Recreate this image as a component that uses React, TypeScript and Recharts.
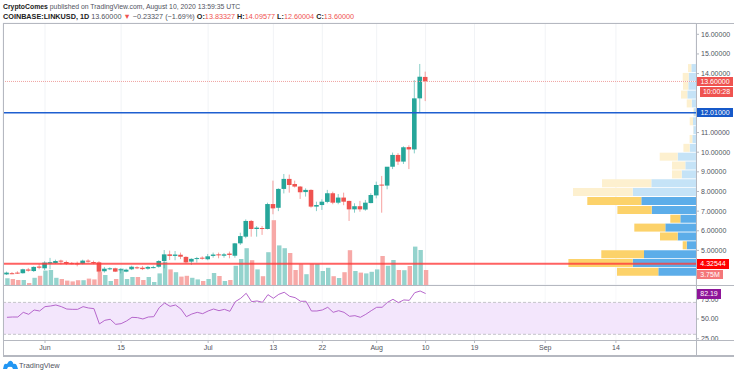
import {
  Bar,
  BarChart,
  CartesianGrid,
  Cell,
  ComposedChart,
  Line,
  ReferenceArea,
  ReferenceLine,
  XAxis,
  YAxis,
} from "recharts";

// days counted from Jun 1 2020
const firstDay = -7;
const opens = [
  3.78, 3.84, 3.87, 3.84, 4.03, 3.95, 4.18, 4.09, 4.33, 4.36, 4.48, 4.41, 4.35, 4.34, 4.33, 4.48, 4.41, 4.39, 3.94, 4.06,
  4.09, 4.0, 3.92, 4.04, 4.14, 4.12, 4.07, 4.12, 4.17, 4.46, 4.8, 4.72, 4.78, 4.67, 4.43, 4.56, 4.63, 4.55, 4.72, 4.8,
  4.73, 4.84, 4.73, 5.36, 5.7, 6.5, 6.09, 6.14, 6.09, 7.36, 7.17, 8.13, 8.64, 8.38, 8.25, 7.97, 8.08, 7.23, 7.31, 7.47,
  7.91, 7.43, 7.69, 7.52, 7.09, 7.25, 7.08, 7.41, 7.8, 8.35, 8.3, 9.26, 9.86, 9.52, 10.26, 10.14, 12.74, 13.83,
];
const closes = [
  3.87, 3.82, 3.85, 4.04, 3.97, 4.16, 4.12, 4.38, 4.4, 4.46, 4.43, 4.33, 4.33, 4.32, 4.48, 4.43, 4.38, 3.92, 4.07, 4.09,
  3.92, 4.04, 4.02, 4.17, 4.11, 4.05, 4.16, 4.15, 4.46, 4.8, 4.72, 4.79, 4.68, 4.39, 4.57, 4.61, 4.58, 4.7, 4.79, 4.75,
  4.8, 4.77, 5.36, 5.73, 6.5, 6.09, 6.16, 6.09, 7.36, 7.14, 8.13, 8.64, 8.33, 8.25, 7.96, 8.08, 7.23, 7.31, 7.48, 7.91,
  7.43, 7.69, 7.48, 7.09, 7.25, 7.09, 7.43, 7.82, 8.33, 8.3, 9.26, 9.86, 9.52, 10.25, 10.14, 12.74, 13.84, 13.6,
];
const highs = [
  3.92, 3.9, 3.94, 4.07, 4.11, 4.19, 4.31, 4.45, 4.62, 4.53, 4.53, 4.48, 4.41, 4.43, 4.53, 4.55, 4.48, 4.45, 4.16, 4.14,
  4.12, 4.09, 4.07, 4.22, 4.19, 4.21, 4.21, 4.22, 4.51, 5.02, 4.99, 4.97, 4.89, 4.7, 4.6, 4.67, 4.7, 4.82, 4.89, 4.89,
  4.87, 4.94, 5.38, 5.9, 6.58, 6.55, 6.24, 6.24, 7.43, 8.55, 8.16, 8.89, 8.86, 8.55, 8.28, 8.16, 8.11, 7.48, 7.6, 8.08,
  7.99, 7.87, 7.94, 7.53, 7.4, 7.52, 7.57, 7.91, 8.5, 8.79, 8.35, 9.98, 9.95, 10.3, 10.35, 13.67, 14.49, 14.1,
];
const lows = [
  3.75, 3.79, 3.8, 3.82, 3.92, 3.9, 4.04, 4.0, 4.04, 4.31, 4.28, 4.26, 4.29, 4.19, 4.29, 4.38, 4.3, 3.89, 3.87, 4.0, 3.9,
  3.83, 3.89, 4.0, 4.05, 4.0, 4.02, 4.09, 4.12, 4.09, 4.51, 4.5, 4.56, 4.34, 4.26, 4.38, 4.53, 4.5, 4.63, 4.6, 4.63, 4.6,
  4.63, 5.28, 5.62, 5.7, 5.7, 5.79, 6.07, 6.84, 7.0, 7.9, 7.94, 8.2, 7.62, 7.74, 7.18, 7.0, 7.06, 7.4, 7.35, 7.35, 7.3,
  6.5, 6.92, 6.97, 7.02, 7.4, 7.65, 6.92, 8.11, 9.14, 9.35, 9.4, 9.14, 9.94, 12.03, 12.6,
];
const volumes = [
  1.7, 1.5, 1.25, 1.25, 0.5, 1.8, 2.3, 3.6, 3.75, 1.8, 1.5, 1.1, 0.9, 1.2, 1.2, 1.6, 1.4, 3.3, 2.5, 1.0, 1.5, 4.1, 1.5,
  2.0, 2.0, 1.25, 2.0, 0.75, 2.9, 5.8, 3.9, 3.2, 2.1, 2.3, 1.8, 1.4, 1.0, 1.5, 3.0, 2.25, 1.0, 1.25, 4.8, 6.5, 9.2, 6.2,
  3.9, 2.2, 8.2, 16.2, 9.9, 9.2, 8.0, 3.75, 5.2, 2.7, 5.3, 5.25, 3.5, 4.3, 2.2, 1.75, 3.2, 8.7, 3.5, 3.1, 2.9, 3.3, 3.9,
  7.25, 4.8, 6.25, 3.75, 3.7, 4.75, 9.6, 8.75, 3.75,
];
const rsiValues = [
  52.1, 52.5, 52.5, 58.4, 55.9, 61.4, 60.1, 65.6, 66.4, 67.7, 65.6, 62.6, 62.2, 62.2, 65.6, 63.9, 63.1, 43.7, 48.3, 49.6,
  43.2, 44.1, 47.5, 52.1, 51.7, 50, 52.5, 52.9, 64.3, 70.2, 66, 67.7, 62.6, 52.9, 56.3, 58.4, 56.7, 60.1, 62.6, 60.5,
  62.2, 59.7, 71.9, 76.2, 82.5, 71.9, 72.8, 71.1, 80.8, 76.2, 81.2, 83.8, 78.7, 77, 72.4, 72.4, 60.1, 60.1, 61.4, 64.8,
  58.4, 60.5, 58.4, 53.4, 54.2, 52.1, 55.9, 60.5, 64.8, 64.8, 71.1, 74.9, 70.7, 74.1, 73.6, 83.3, 85.4, 82.19,
];

// volume profile rows, top to bottom
const profilePrices = [
  14.26, 13.81, 13.36, 12.91, 12.46, 12.01, 11.55, 11.1, 10.65, 10.2, 9.75, 9.3, 8.85, 8.4, 7.95, 7.5, 7.04, 6.59, 6.14,
  5.69, 5.24, 4.79, 4.34, 3.89,
];
const profileBuy = [
  4.7, 7.3, 7.7, 8.7, 4.3, 2, 3, 2.7, 3.7, 6.3, 18.3, 10.7, 14.3, 44.7, 63.3, 54.7, 44.3, 15.7, 30.7, 18.3, 9.3, 52, 63.3,
  37.7,
];
const profileSell = [
  3.3, 6, 5.3, 6.3, 5, 0.7, 3.3, 0.3, 2.7, 6.3, 18, 13.3, 9.7, 49.3, 59.7, 54, 34.3, 10, 31, 17.7, 4, 42.7, 64.3, 41.3,
];
const valueAreaTop = 7.7;

const gridTicks = [5, 6, 7, 8, 9, 10, 11, 12, 13, 14, 15, 16];
const priceTicks = [5, 6, 7, 8, 9, 10, 11, 14, 15, 16];
const rsiTicks = [25, 50, 75];
const dayTicks = [0, 14, 30, 42, 51, 61, 70, 79, 92, 105];
const dayTickLabels = ["Jun", "15", "Jul", "13", "22", "Aug", "10", "19", "Sep", "14"];

const lastPrice = 13.6;
const supportLevel = 4.32544;
const resistanceLevel = 12.01;
const rsiUpper = 71;
const rsiLower = 30.6;

const dayDomain = [-7.725, 119.73];
const priceDomain = [3.24, 16.575];
const volumeDomain = [0, 65.5];
const rsiDomain = [23.4, 93];

const UP = "#26a69a";
const DOWN = "#ef5350";
const FONT = "'Liberation Sans', Arial, sans-serif";
const AXIS_TEXT = { fontSize: 7, fontFamily: FONT, fill: "#50535e" };
const CHART_W = 736;
const PRICE_MARGIN = { top: 23, right: 0, bottom: 0, left: 3 };

const candleData = opens.map((open, i) => ({
  day: firstDay + i,
  open,
  close: closes[i],
  high: highs[i],
  low: lows[i],
  range: [lows[i], highs[i]],
  volume: volumes[i],
  rsi: rsiValues[i],
}));

const profileData = profilePrices.map((price, i) => ({
  price,
  buy: profileBuy[i],
  sell: profileSell[i],
}));

function Candle(props: any) {
  const { x, y, width, height, payload } = props;
  const { open, close, high, low } = payload;
  const unit = height / (high - low);
  const top = y + (high - Math.max(open, close)) * unit;
  const bodyH = Math.max(Math.abs(open - close) * unit, 1);
  const color = close >= open ? UP : DOWN;
  const mid = x + width / 2;
  return (
    <g>
      <line x1={mid} x2={mid} y1={y} y2={y + height} stroke={color} strokeOpacity={0.55} strokeWidth={1} />
      <rect x={x} y={top} width={width} height={bodyH} fill={color} />
    </g>
  );
}

function Box({ top, left, width, height, bg, children }: any) {
  return (
    <div
      style={{
        position: "absolute",
        top,
        left,
        width,
        height,
        lineHeight: `${height}px`,
        background: bg,
        color: "#fff",
        fontSize: 7,
        fontFamily: FONT,
        textAlign: "center",
      }}
    >
      {children}
    </div>
  );
}

function FrameLine({ top, left, width, height }: any) {
  return <div style={{ position: "absolute", top, left, width, height, background: "#b5b8c0" }} />;
}

const layer = { position: "absolute", left: 0, top: 0 } as const;

export default function App() {
  return (
    <div style={{ position: "fixed", left: 0, top: 0, width: 736, height: 376, background: "#fff", overflow: "hidden" }}>
      <div style={{ position: "absolute", left: 3, top: 2, fontSize: 6.85, lineHeight: "9px", fontFamily: FONT, color: "#50535e", whiteSpace: "nowrap" }}>
        <b style={{ color: "#222" }}>CryptoComes</b> published on TradingView.com, August 10, 2020 13:59:35 UTC
      </div>
      <div style={{ position: "absolute", left: 3, top: 11.5, fontSize: 7.25, lineHeight: "9px", fontFamily: FONT, color: "#50535e", whiteSpace: "nowrap" }}>
        <b style={{ color: "#222" }}>COINBASE:LINKUSD, 1D</b> 13.60000 <span style={{ color: DOWN }}>▼</span> −0.23327 (−1.69%){" "}
        <b style={{ color: "#222" }}>O:</b><span style={{ color: DOWN }}>13.83327</span>{" "}
        <b style={{ color: "#222" }}>H:</b><span style={{ color: DOWN }}>14.09577</span>{" "}
        <b style={{ color: "#222" }}>L:</b><span style={{ color: DOWN }}>12.60004</span>{" "}
        <b style={{ color: "#222" }}>C:</b><span style={{ color: DOWN }}>13.60000</span>
      </div>

      {/* volume + grid */}
      <div style={layer}>
        <ComposedChart width={CHART_W} height={285} data={candleData} margin={PRICE_MARGIN}>
          <CartesianGrid stroke="#f1f3f6" strokeWidth={1} />
          <XAxis dataKey="day" type="number" domain={dayDomain} ticks={dayTicks} allowDataOverflow hide />
          <YAxis orientation="right" width={40} domain={priceDomain} ticks={gridTicks} interval={0} allowDataOverflow tick={false} axisLine={false} tickLine={false} />
          <YAxis yAxisId="vol" hide domain={volumeDomain} allowDataOverflow />
          <Bar yAxisId="vol" dataKey="volume" barSize={4.4} isAnimationActive={false}>
            {candleData.map((d) => (
              <Cell key={d.day} fill={d.close >= d.open ? "#94d3cd" : "#f7a9a7"} />
            ))}
          </Bar>
        </ComposedChart>
      </div>

      {/* volume profile */}
      <div style={layer}>
        <BarChart width={CHART_W} height={285} data={profileData} layout="vertical" margin={{ top: 23, right: 40, bottom: 0, left: 3 }}>
          <XAxis type="number" reversed domain={[0, 693]} allowDataOverflow hide />
          <YAxis type="number" reversed dataKey="price" domain={priceDomain} allowDataOverflow hide />
          <Bar dataKey="buy" stackId="vp" barSize={8} isAnimationActive={false}>
            {profileData.map((d) => (
              <Cell key={d.price} fill={d.price < valueAreaTop ? "#5cade9" : "#c5e3f7"} />
            ))}
          </Bar>
          <Bar dataKey="sell" stackId="vp" barSize={8} isAnimationActive={false}>
            {profileData.map((d) => (
              <Cell key={d.price} fill={d.price < valueAreaTop ? "#fcd26a" : "#fdf0cf"} />
            ))}
          </Bar>
        </BarChart>
      </div>

      {/* candles + price axis */}
      <div style={layer}>
        <ComposedChart width={CHART_W} height={285} data={candleData} margin={PRICE_MARGIN}>
          <XAxis dataKey="day" type="number" domain={dayDomain} ticks={dayTicks} allowDataOverflow hide />
          <YAxis
            orientation="right"
            width={40}
            domain={priceDomain}
            ticks={priceTicks}
            allowDataOverflow
            interval={0}
            axisLine={false}
            tickSize={3}
            stroke="#b5b8c0"
            tick={AXIS_TEXT}
            tickFormatter={(v: number) => v.toFixed(5)}
          />
          <ReferenceLine y={lastPrice} stroke="#f0a3a1" strokeDasharray="1 1" strokeWidth={1} />
          <Bar dataKey="range" barSize={4.6} shape={<Candle />} isAnimationActive={false} />
          <ReferenceLine y={resistanceLevel} stroke="#1e5fd0" strokeWidth={1.6} />
          <ReferenceLine y={supportLevel} stroke="#ff3b3b" strokeOpacity={0.8} strokeWidth={2} />
        </ComposedChart>
      </div>

      {/* RSI */}
      <div style={{ position: "absolute", left: 0, top: 285 }}>
        <ComposedChart width={CHART_W} height={71} data={candleData} margin={{ top: 0, right: 0, bottom: 0, left: 3 }}>
          <ReferenceArea y1={rsiLower} y2={rsiUpper} fill="#f3e6fc" fillOpacity={1} stroke="none" />
          <CartesianGrid stroke="#f1f3f6" strokeOpacity={0.6} strokeWidth={1} horizontal={false} />
          <XAxis
            dataKey="day"
            type="number"
            height={16}
            domain={dayDomain}
            ticks={dayTicks}
            interval={0}
            allowDataOverflow
            axisLine={false}
            tickSize={3}
            stroke="#b5b8c0"
            tick={AXIS_TEXT}
            tickFormatter={(v: number) => dayTickLabels[dayTicks.indexOf(v)]}
          />
          <YAxis
            orientation="right"
            width={40}
            domain={rsiDomain}
            ticks={rsiTicks}
            interval={0}
            allowDataOverflow
            axisLine={false}
            tickSize={3}
            stroke="#b5b8c0"
            tick={AXIS_TEXT}
            tickFormatter={(v: number) => v.toFixed(2)}
          />
          <ReferenceLine y={rsiUpper} stroke="#c4c4ca" strokeDasharray="3 2" />
          <ReferenceLine y={rsiLower} stroke="#c4c4ca" strokeDasharray="3 2" />
          <Line dataKey="rsi" stroke="#b666cc" strokeWidth={1} dot={false} isAnimationActive={false} />
        </ComposedChart>
      </div>

      <FrameLine top={23} left={3} width={731} height={1} />
      <FrameLine top={23} left={3} width={1} height={333} />
      <FrameLine top={23} left={696} width={1} height={333} />
      <FrameLine top={285} left={3} width={731} height={1} />
      <FrameLine top={340} left={3} width={731} height={1} />
      <FrameLine top={355} left={3} width={731} height={2} />

      <Box top={76.5} left={697} width={36} height={9.5} bg={DOWN}>13.60000</Box>
      <Box top={87} left={700} width={33} height={9.5} bg={DOWN}>10:00:28</Box>
      <Box top={107.5} left={697} width={36} height={9.5} bg="#1659c9">12.01000</Box>
      <Box top={259} left={697} width={32} height={9.5} bg="#ff0000">4.32544</Box>
      <Box top={269.5} left={697} width={26} height={9.5} bg="#f4777a">3.75M</Box>
      <Box top={289} left={697} width={24} height={9.5} bg="#8e1599">82.19</Box>

      <svg style={{ position: "absolute", left: 3, top: 360 }} width={15} height={10} viewBox="0 0 15 10">
        <path d="M0 9 L1 5 Q2 3 4 4 Q6 0 8.5 1 Q10 2 10.5 4 Q13 3 14 6 L15 9 Z" fill="#2196f3" />
        <path d="M4 9 Q5 6 7 7 Q9 6 10 9 Z" fill="#fff" />
      </svg>
      <div style={{ position: "absolute", left: 19, top: 361, fontSize: 7.4, lineHeight: "10px", fontFamily: FONT, color: "#50535e" }}>TradingView</div>
    </div>
  );
}
